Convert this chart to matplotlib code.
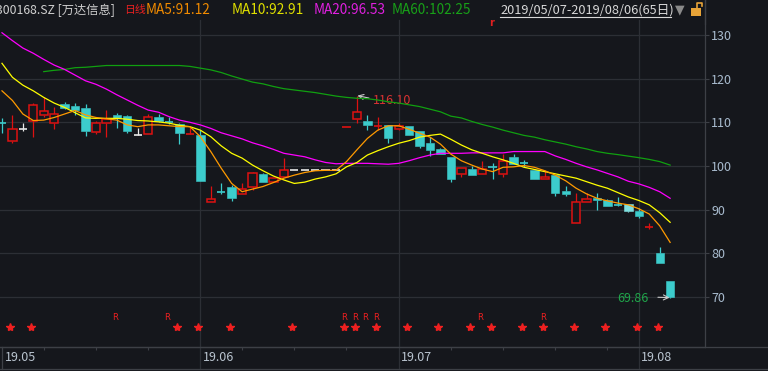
import numpy as np
import matplotlib.pyplot as plt
from matplotlib.patches import Rectangle
from matplotlib.lines import Line2D

plt.rcParams['font.family'] = ['Noto Sans CJK SC', 'DejaVu Sans']

# === daily candles 2019/05/07 - 2019/08/06 (65 days) ===
opens = [109.9, 105.8, 108.4, 110.4, 111.7, 109.8, 114.2, 113.7, 113.2, 107.7,
         109.8, 111.7, 111.4, 107.0, 107.3, 111.2, 110.1, 109.5, 107.2, 107.1,
         91.7, 94.05, 95.1, 93.6, 95.1, 98.1, 96.4, 97.5, 99.0, 99.0,
         99.0, 99.0, 99.0, 108.98, 110.7, 110.3, 109.15, 109.4, 108.5, 109.2,
         108.0, 105.3, 103.8, 102.1, 98.1, 99.3, 98.1, 99.85, 98.1, 102.1,
         100.65, 99.1, 97.1, 97.9, 94.3, 87.0, 91.8, 92.6, 92.2, 91.15,
         91.3, 89.8, 86.05, 80.1, 73.7]
highs = [111.0, 111.7, 109.8, 114.4, 115.7, 113.4, 114.6, 114.4, 114.2, 110.3,
         112.8, 112.1, 111.7, 108.8, 111.9, 111.9, 111.3, 109.8, 108.9, 108.2,
         95.3, 96.0, 95.6, 96.0, 98.7, 98.3, 97.2, 101.9, 99.0, 99.0,
         99.0, 99.0, 99.0, 109.0, 116.1, 111.7, 111.2, 109.4, 109.9, 109.2,
         108.0, 106.7, 104.2, 102.1, 99.5, 100.1, 101.1, 100.6, 102.7, 102.7,
         101.4, 99.1, 99.1, 97.9, 95.3, 93.7, 93.7, 93.7, 92.4, 93.0,
         91.3, 90.3, 86.9, 81.4, 73.7]
lows = [107.6, 105.2, 108.1, 106.7, 111.1, 108.4, 113.0, 111.7, 106.9, 107.3,
        106.7, 108.6, 107.6, 107.0, 107.3, 110.0, 109.6, 105.0, 107.2, 96.6,
        91.7, 93.6, 91.9, 93.6, 94.5, 96.3, 96.4, 97.5, 99.0, 99.0,
        99.0, 99.0, 99.0, 108.98, 109.8, 108.2, 108.2, 105.3, 108.2, 107.1,
        104.2, 102.3, 102.7, 96.4, 97.5, 97.9, 98.1, 97.0, 97.4, 100.5,
        99.8, 97.0, 97.1, 93.2, 93.2, 87.0, 91.8, 90.0, 90.9, 90.9,
        89.4, 88.1, 85.6, 77.67, 69.86]
closes = [109.8, 108.4, 108.4, 114.0, 112.5, 111.8, 113.3, 112.8, 108.1, 109.8,
          110.8, 110.9, 107.9, 107.0, 111.2, 110.4, 110.0, 107.5, 107.3, 96.6,
          92.4, 94.0, 92.7, 94.7, 98.3, 96.4, 97.2, 99.0, 99.0, 99.0,
          99.0, 99.0, 99.0, 109.0, 112.4, 109.4, 109.2, 106.3, 109.2, 107.1,
          104.6, 103.7, 102.7, 97.0, 99.5, 97.9, 99.2, 99.8, 101.2, 100.5,
          100.6, 97.0, 97.4, 93.9, 93.6, 91.7, 92.4, 92.1, 90.9, 91.1,
          89.8, 88.6, 86.1, 77.67, 69.9]

ma5 = [117.2, 115.0, 111.9, 110.4, 110.5, 111.1, 111.9, 112.7, 111.7, 111.1,
       110.8, 110.5, 109.4, 109.0, 109.4, 109.4, 109.2, 109.0, 109.0, 106.7,
       103.3, 99.5, 96.0, 94.1, 94.7, 95.3, 96.2, 97.2, 97.9, 98.5,
       98.9, 99.0, 99.0, 101.0, 103.7, 106.3, 108.2, 109.2, 109.2, 108.4,
       107.5, 106.6, 105.0, 102.7, 101.2, 100.2, 99.3, 98.7, 99.7, 99.8,
       100.1, 99.7, 98.9, 97.9, 96.6, 94.9, 93.6, 92.6, 92.0, 91.5,
       91.1, 90.2, 89.0, 86.3, 82.5]
ma10 = [123.5, 120.3, 118.5, 117.2, 115.7, 114.4, 113.4, 112.2, 111.0, 110.9,
        110.9, 110.9, 110.7, 110.4, 110.3, 110.1, 109.8, 109.3, 109.0, 108.2,
        106.7, 104.6, 102.9, 101.8, 100.2, 98.9, 97.7, 96.8, 96.0, 96.3,
        97.0, 97.5, 98.2, 99.8, 100.8, 102.5, 103.5, 104.4, 105.2, 105.8,
        106.6, 107.0, 107.3, 106.1, 104.8, 103.7, 102.9, 102.1, 101.4, 100.6,
        99.7, 99.2, 98.7, 98.2, 97.7, 97.2, 96.4, 95.6, 94.9, 93.9,
        92.9, 92.1, 91.1, 89.3, 87.1]
ma20 = [130.5, 128.7, 127.0, 125.8, 124.4, 123.1, 122.1, 120.8, 119.5, 118.7,
        117.6, 116.3, 115.1, 113.9, 112.8, 112.3, 111.3, 110.5, 110.0, 109.4,
        108.6, 107.6, 106.9, 106.2, 105.3, 104.6, 103.8, 102.9, 102.5, 102.1,
        101.4, 100.8, 100.5, 100.6, 100.6, 100.6, 100.5, 100.4, 100.6, 101.2,
        101.9, 102.5, 102.9, 102.9, 102.9, 103.0, 103.0, 103.0, 103.0, 103.3,
        103.3, 103.3, 103.3, 102.3, 101.5, 100.6, 99.8, 99.1, 98.3, 97.5,
        96.5, 95.9, 95.1, 94.1, 92.6]
ma60 = [np.nan, np.nan, np.nan, np.nan, 121.6, 121.9, 122.1, 122.5, 122.6, 122.8,
        123.0, 123.0, 123.0, 123.0, 123.0, 123.0, 123.0, 123.0, 122.8, 122.4,
        122.0, 121.4, 120.6, 119.9, 119.2, 118.8, 118.2, 117.7, 117.4, 117.1,
        116.8, 116.4, 116.0, 115.7, 115.5, 115.4, 115.1, 114.7, 114.4, 114.0,
        113.6, 113.0, 112.4, 111.4, 111.0, 110.2, 109.5, 108.9, 108.2, 107.6,
        107.0, 106.6, 106.0, 105.5, 105.0, 104.4, 103.9, 103.3, 102.9, 102.6,
        102.25, 101.9, 101.5, 101.0, 100.2]

month_idx = [0, 19, 38, 61]
month_labels = ['19.05', '19.06', '19.07', '19.08']
week_idx = [4, 9, 14, 23, 28, 33, 43, 48, 53, 58, 63]
star_idx = [1, 3, 17, 19, 22, 28, 33, 34, 36, 39, 42, 45, 47, 50, 52, 55, 58, 61, 63]
r_idx = [11, 16, 33, 34, 35, 36, 46, 52]
yticks = [70, 80, 90, 100, 110, 120, 130]
selected = 60

BG = '#15171c'
GRID = '#2c2f35'
AXC = '#3d4046'
RED = '#dd1111'
CYAN = '#3ccccc'
WHITE = '#e8e8e8'
TXT = '#a9bccf'

W, H = 768, 371
fig = plt.figure(figsize=(W / 100, H / 100), dpi=100)
fig.patch.set_facecolor(BG)
ax = fig.add_axes([0, 24 / H, 705 / W, 347 / H])
ax.set_facecolor(BG)
ax.set_xlim(-0.19, 67.34)
ax.set_ylim(58.55, 138.0)

# candles
n = len(closes)
bw = 0.8
for i in range(n):
    o, h, l, c = opens[i], highs[i], lows[i], closes[i]
    if c > o:
        col = RED
    elif c < o:
        col = CYAN
    else:
        col = WHITE
    if i == selected:
        col = '#7fe0e0'
    top, bot = max(o, c), min(o, c)
    ax.vlines(i, top, h, color=col, lw=0.9, zorder=3)
    ax.vlines(i, l, bot, color=col, lw=0.9, zorder=3)
    if top - bot < 0.25:
        ax.hlines((o + c) / 2, i - bw / 2, i + bw / 2, color=col, lw=1.2, zorder=3)
    elif c > o:
        ax.add_patch(Rectangle((i - bw / 2, bot), bw, top - bot, facecolor=BG,
                               edgecolor=col, lw=1.1, zorder=3))
    else:
        ax.add_patch(Rectangle((i - bw / 2, bot), bw, top - bot, facecolor=col,
                               edgecolor=col, lw=0.4, zorder=3))

# moving averages
xs = np.arange(n)
ax.plot(xs, ma60, color='#10a010', lw=0.9, zorder=4)
ax.plot(xs, ma20, color='#ff00ff', lw=0.9, zorder=4)
ax.plot(xs, ma10, color='#ffff00', lw=0.9, zorder=4)
ax.plot(xs, ma5, color='#ff9a00', lw=0.9, zorder=4)

# marks row at the bottom
ax.plot(np.array(star_idx) - 0.2, [63.1] * len(star_idx), ls='none', marker='*',
        ms=6, color='#ee2020', zorder=4)
for i in r_idx:
    ax.text(i - 0.2, 65.2, 'R', fontsize=6, color='#ee2020', ha='center', va='center',
            family='DejaVu Sans')

# high / low labels
ax.annotate('116.10', xy=(34.05, highs[34]), xytext=(35.55, 114.9), va='center', ha='left',
            fontsize=9, color='#d83232',
            arrowprops=dict(arrowstyle='->', color='#c8c8c8', lw=0.8, shrinkA=1, shrinkB=0,
                            relpos=(0, 0.65)))
ax.annotate('69.86', xy=(63.95, lows[64]), xytext=(61.9, 69.7), va='center', ha='right',
            fontsize=9, color='#1fa64a',
            arrowprops=dict(arrowstyle='->', color='#c8c8c8', lw=0.8, shrinkA=5, shrinkB=0,
                            relpos=(1, 0.6)))

# grid and axes
ax.set_yticks(yticks)
ax.yaxis.tick_right()
ax.tick_params(axis='y', direction='out', length=3, width=0.8, color=AXC, pad=1.5,
               labelsize=9, labelcolor=TXT)
ax.grid(axis='y', color=GRID, lw=0.9, zorder=0)
ax.set_xticks(week_idx)
ax.tick_params(axis='x', direction='out', length=2.5, width=0.8, color=AXC, labelbottom=False)
for s in ['top', 'left']:
    ax.spines[s].set_visible(False)
for s in ['right', 'bottom']:
    ax.spines[s].set_color(AXC)
    ax.spines[s].set_linewidth(0.9)

band = 22 / 347
top_frac = (347 - 20) / 347
for k, i in enumerate(month_idx):
    if k == 0:
        ax.axvline(i - 0.03, ymin=-band, ymax=0, color=AXC, lw=0.9, clip_on=False)
    else:
        ax.axvline(i, ymin=-band, ymax=top_frac, color=GRID, lw=0.9, clip_on=False, zorder=0)
    ax.text(i + 0.25, -0.029, month_labels[k], transform=ax.get_xaxis_transform(),
            ha='left', va='center', fontsize=9, color='#b9c4cf', clip_on=False)

fig.add_artist(Line2D([0, 1], [24 / H, 24 / H], color=AXC, lw=0.9))
fig.add_artist(Line2D([0, 1], [2 / H, 2 / H], color=AXC, lw=0.9))

# header line
hy = 1 - 10 / H
fig.text(-4 / W, hy, '300168.SZ [万达信息]', fontsize=8.8, color='#d0d0d0', va='center')
fig.text(124 / W, hy, '日线', fontsize=7.8, color='#e82020', va='center')
fig.text(146 / W, hy, 'MA5:91.12', fontsize=9.8, color='#f08a00', va='center')
fig.text(232 / W, hy, 'MA10:92.91', fontsize=9.8, color='#e0e000', va='center')
fig.text(314 / W, hy, 'MA20:96.53', fontsize=9.8, color='#e020e0', va='center')
fig.text(392 / W, hy, 'MA60:102.25', fontsize=9.8, color='#18a018', va='center')
fig.text(500 / W, hy, '2019/05/07-2019/08/06(65日)', fontsize=9.2, color='#d8d8d8', va='center')
fig.add_artist(Line2D([500 / W, 671 / W], [1 - 17 / H, 1 - 17 / H], color='#d8d8d8', lw=0.8))
fig.text(680 / W, hy, '▼', fontsize=9, color='#8a8a8a', va='center', ha='center',
         family='DejaVu Sans')
fig.add_artist(Rectangle((691 / W, 1 - 16 / H), 10 / W, 8 / H, transform=fig.transFigure,
                         facecolor='#e8a438', edgecolor='none'))
fig.add_artist(Line2D([697 / W, 697 / W, 702 / W, 702 / W],
                      [1 - 8 / H, 1 - 3 / H, 1 - 3 / H, 1 - 6 / H], color='#e8a438', lw=1.2))
fig.text(492 / W, 1 - 23 / H, 'r', fontsize=7, color='#e02020', va='center', ha='center',
         weight='bold', family='DejaVu Sans')
fig.add_artist(Line2D([705 / W, 705 / W], [347 / H, 1], color=AXC, lw=0.9))

fig.savefig('out.png', dpi=100, facecolor=BG)
